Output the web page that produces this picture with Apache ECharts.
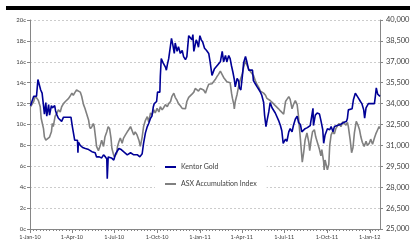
<!DOCTYPE html>
<html><head><meta charset="utf-8">
<script src="https://cdn.jsdelivr.net/npm/echarts@6/dist/echarts.min.js"></script>
<style>html,body{margin:0;padding:0;background:#fff}#c{width:410px;height:246px}</style>
</head><body><div id="c"></div>
<script>
const goldDates = ['2010-01-02','2010-01-05','2010-01-09','2010-01-15','2010-01-18','2010-01-21','2010-01-24','2010-01-27','2010-01-30','2010-02-01','2010-02-04','2010-02-06','2010-02-10','2010-02-12','2010-02-16','2010-02-18','2010-02-23','2010-02-25','2010-02-28','2010-03-03','2010-03-07','2010-03-10','2010-03-14','2010-03-30','2010-04-02','2010-04-05','2010-04-07','2010-04-13','2010-04-14','2010-04-15','2010-04-19','2010-04-24','2010-04-30','2010-05-07','2010-05-11','2010-05-14','2010-05-21','2010-05-24','2010-05-30','2010-06-04','2010-06-08','2010-06-12','2010-06-15','2010-06-16','2010-06-18','2010-06-25','2010-06-30','2010-07-04','2010-07-11','2010-07-16','2010-07-21','2010-07-29','2010-08-05','2010-08-12','2010-08-20','2010-08-25','2010-08-30','2010-09-02','2010-09-06','2010-09-10','2010-09-13','2010-09-17','2010-09-20','2010-09-23','2010-09-25','2010-09-30','2010-10-02','2010-10-07','2010-10-08','2010-10-10','2010-10-14','2010-10-19','2010-10-21','2010-10-23','2010-10-26','2010-10-30','2010-11-01','2010-11-04','2010-11-07','2010-11-09','2010-11-13','2010-11-16','2010-11-20','2010-11-24','2010-11-27','2010-12-01','2010-12-04','2010-12-08','2010-12-12','2010-12-15','2010-12-17','2010-12-19','2010-12-21','2010-12-24','2010-12-26','2010-12-29','2011-01-01','2011-01-04','2011-01-07','2011-01-11','2011-01-15','2011-01-20','2011-01-23','2011-01-27','2011-01-31','2011-02-01','2011-02-05','2011-02-10','2011-02-14','2011-02-18','2011-02-21','2011-02-25','2011-02-28','2011-03-04','2011-03-07','2011-03-10','2011-03-13','2011-03-16','2011-03-18','2011-03-22','2011-03-25','2011-03-27','2011-03-30','2011-04-02','2011-04-05','2011-04-09','2011-04-12','2011-04-16','2011-04-19','2011-04-24','2011-04-26','2011-04-30','2011-05-04','2011-05-07','2011-05-11','2011-05-14','2011-05-18','2011-05-20','2011-05-23','2011-05-25','2011-05-29','2011-06-01','2011-06-05','2011-06-08','2011-06-12','2011-06-16','2011-06-19','2011-06-23','2011-06-26','2011-06-29','2011-07-04','2011-07-07','2011-07-11','2011-07-14','2011-07-18','2011-07-21','2011-07-25','2011-07-29','2011-08-01','2011-08-05','2011-08-08','2011-08-12','2011-08-15','2011-08-20','2011-08-26','2011-08-30','2011-09-01','2011-09-02','2011-09-06','2011-09-10','2011-09-15','2011-09-18','2011-09-22','2011-09-24','2011-09-27','2011-10-02','2011-10-07','2011-10-10','2011-10-14','2011-10-17','2011-10-23','2011-10-30','2011-11-06','2011-11-12','2011-11-14','2011-11-16','2011-11-20','2011-11-24','2011-11-27','2011-12-01','2011-12-04','2011-12-08','2011-12-12','2011-12-15','2011-12-19','2011-12-21','2011-12-24','2011-12-29','2012-01-11','2012-01-13','2012-01-15','2012-01-18','2012-01-20','2012-01-23'];
const goldValues = [11.8,11.7,12.7,12.7,14.3,14.3,13.3,13.0,11.8,11.0,12.1,10.8,11.9,10.9,11.8,11.6,11.8,11.3,10.9,10.6,10.6,10.3,10.7,10.7,9.8,9.8,8.5,8.5,7.3,8.3,8.0,7.8,7.7,7.6,7.7,7.4,7.3,6.9,6.9,6.8,7.1,6.9,6.7,4.8,6.9,6.8,6.6,7.2,7.7,7.6,7.4,7.1,7.3,7.1,7.1,6.9,7.2,8.2,9.2,9.8,10.1,10.6,10.8,11.7,12.0,12.2,13.1,13.1,14.6,16.3,15.9,15.5,15.2,15.7,16.3,17.6,18.25,17.6,16.8,17.8,17.0,17.45,16.8,17.1,16.5,16.2,16.5,18.5,18.4,18.1,18.6,17.0,17.4,18.1,17.9,17.4,18.5,18.1,17.9,17.3,17.1,16.8,16.0,14.7,14.7,15.3,15.2,15.8,16.0,17.0,16.0,16.6,16.0,16.6,16.3,15.6,15.0,14.3,13.6,14.4,14.2,13.5,13.3,14.5,15.9,16.5,16.0,15.2,15.1,15.2,14.2,13.9,13.6,13.4,13.1,12.8,12.1,10.9,9.8,10.3,11.2,12.1,11.6,11.7,11.1,11.0,10.4,9.9,9.4,8.2,8.6,8.4,9.3,9.6,9.3,9.9,10.5,10.8,10.2,10.0,9.3,9.3,9.6,9.7,9.9,11.0,11.55,9.9,10.9,11.1,11.0,10.4,9.5,8.2,9.0,9.6,9.5,9.8,9.3,9.8,9.9,10.0,10.2,10.3,10.6,11.4,11.3,11.5,12.4,13.0,12.9,12.5,12.2,12.0,11.4,10.6,11.6,12.0,12.0,12.7,13.5,12.9,13.0,12.7];

const asxDates = ['2010-01-02','2010-01-05','2010-01-09','2010-01-12','2010-01-16','2010-01-19','2010-01-23','2010-01-25','2010-01-28','2010-01-30','2010-02-01','2010-02-04','2010-02-08','2010-02-12','2010-02-16','2010-02-18','2010-02-20','2010-02-24','2010-02-28','2010-03-03','2010-03-07','2010-03-10','2010-03-14','2010-03-18','2010-03-21','2010-03-25','2010-03-28','2010-04-01','2010-04-04','2010-04-08','2010-04-11','2010-04-15','2010-04-19','2010-04-22','2010-04-26','2010-04-29','2010-05-03','2010-05-07','2010-05-09','2010-05-11','2010-05-14','2010-05-17','2010-05-19','2010-05-22','2010-05-24','2010-05-28','2010-06-01','2010-06-04','2010-06-08','2010-06-11','2010-06-15','2010-06-18','2010-06-21','2010-06-24','2010-06-26','2010-06-29','2010-07-01','2010-07-06','2010-07-08','2010-07-11','2010-07-14','2010-07-18','2010-07-21','2010-07-25','2010-07-29','2010-08-01','2010-08-05','2010-08-08','2010-08-12','2010-08-15','2010-08-19','2010-08-23','2010-08-26','2010-08-30','2010-09-02','2010-09-06','2010-09-10','2010-09-13','2010-09-17','2010-09-20','2010-09-24','2010-09-27','2010-10-01','2010-10-05','2010-10-08','2010-10-12','2010-10-15','2010-10-19','2010-10-23','2010-10-26','2010-10-30','2010-11-02','2010-11-06','2010-11-09','2010-11-13','2010-11-16','2010-11-20','2010-11-24','2010-11-27','2010-12-01','2010-12-04','2010-12-08','2010-12-12','2010-12-15','2010-12-19','2010-12-22','2010-12-26','2010-12-29','2011-01-02','2011-01-06','2011-01-09','2011-01-13','2011-01-16','2011-01-20','2011-01-23','2011-01-27','2011-01-31','2011-02-03','2011-02-07','2011-02-10','2011-02-14','2011-02-18','2011-02-21','2011-02-25','2011-02-28','2011-03-04','2011-03-07','2011-03-10','2011-03-12','2011-03-15','2011-03-16','2011-03-18','2011-03-22','2011-03-25','2011-03-29','2011-04-02','2011-04-05','2011-04-09','2011-04-12','2011-04-16','2011-04-19','2011-04-23','2011-04-26','2011-04-30','2011-05-04','2011-05-07','2011-05-11','2011-05-14','2011-05-18','2011-05-22','2011-05-25','2011-05-29','2011-06-01','2011-06-05','2011-06-08','2011-06-12','2011-06-16','2011-06-19','2011-06-23','2011-06-26','2011-06-30','2011-07-04','2011-07-07','2011-07-11','2011-07-14','2011-07-18','2011-07-21','2011-07-25','2011-07-29','2011-08-01','2011-08-03','2011-08-05','2011-08-07','2011-08-09','2011-08-12','2011-08-15','2011-08-19','2011-08-23','2011-08-25','2011-08-28','2011-08-31','2011-09-04','2011-09-07','2011-09-11','2011-09-15','2011-09-18','2011-09-20','2011-09-24','2011-09-25','2011-09-27','2011-09-30','2011-10-02','2011-10-05','2011-10-07','2011-10-10','2011-10-13','2011-10-17','2011-10-20','2011-10-24','2011-10-27','2011-10-31','2011-11-04','2011-11-07','2011-11-11','2011-11-14','2011-11-16','2011-11-20','2011-11-23','2011-11-26','2011-11-29','2011-12-03','2011-12-07','2011-12-10','2011-12-13','2011-12-16','2011-12-20','2011-12-24','2011-12-27','2011-12-31','2012-01-03','2012-01-07','2012-01-11','2012-01-14','2012-01-18','2012-01-21','2012-01-23'];
const asxValues = [33775,33925,34150,34525,34375,34225,33775,32950,32500,32200,31600,31375,31300,31600,31975,32575,32350,33100,33325,33550,33400,33775,34000,34150,34260,34375,34525,34750,34600,34825,34975,35090,34825,34525,33925,33660,33625,32800,32350,32200,32350,32575,32350,31525,30925,30625,31000,31375,30925,31600,31975,32350,32200,31525,30775,30400,30175,30400,30925,31260,31525,31150,31525,31750,31975,32125,32350,32460,31750,31975,31750,31375,30925,31600,32350,32800,33060,32690,33325,33175,33550,33325,33660,33400,33775,33550,33700,33925,33775,34000,34150,34525,34750,34450,34225,34000,33850,33660,33550,33625,34150,34450,34525,34675,34825,35090,34975,34900,35090,35050,34975,34750,35050,35390,35275,35425,35350,35725,35950,36100,36325,36250,35875,35760,35575,35575,35500,34750,34375,33925,33625,34150,34675,35200,35725,36100,36625,37075,36775,36475,36325,36250,36025,35650,35350,35200,34900,34975,34750,34600,34375,34300,34225,34150,34000,33850,33850,33625,33475,33400,33250,34150,34300,34495,34300,33625,33925,34225,33925,33060,32200,31450,30625,29800,30475,31375,31900,31225,30625,31375,31975,32125,31600,31150,30700,30250,30700,29800,29240,29950,29875,29240,29650,31000,31750,31975,31825,32200,32425,32575,32350,32690,32800,32460,32650,32350,31375,30475,30850,31900,32725,32425,32125,31600,31225,30925,31300,31000,31150,31450,31075,31525,31825,32125,32350,32200];

const xTickDates = ['2010-01-01','2010-04-01','2010-07-01','2010-10-01','2011-01-01','2011-04-01','2011-07-01','2011-10-01','2012-01-01'];
const leftTicks = [0,2,4,6,8,10,12,14,16,18,20];
const rightTicks = [25000,26500,28000,29500,31000,32500,34000,35500,37000,38500,40000];
const xMin = '2010-01-01';
const xMax = '2012-01-23';
const monthNames = ['Jan','Feb','Mar','Apr','May','Jun','Jul','Aug','Sep','Oct','Nov','Dec'];

function ts(s){const p=s.split('-');return Date.UTC(+p[0],+p[1]-1,+p[2]);}
function fmtDate(v){const d=new Date(v);return d.getUTCDate()+'-'+monthNames[d.getUTCMonth()]+'-'+String(d.getUTCFullYear()).slice(2);}

const weekTicks=[];
for(let t=ts(xMin);t<=ts(xMax);t+=7*86400000) weekTicks.push(t);

const axisGrey='#868686', textCol='#404040', FONT='Lato';
const chart = echarts.init(document.getElementById('c'));
chart.setOption({
  animation:false,
  backgroundColor:'#fff',
  textStyle:{fontFamily:FONT},
  graphic:[{type:'rect',shape:{x:6,y:6,width:404,height:4},style:{fill:'#000'}}],
  grid:{left:30,right:30,top:20,bottom:17,containLabel:false,outerBoundsMode:'none'},
  legend:{
    data:['Kentor Gold','ASX Accumulation Index'],
    orient:'vertical',left:155,top:158,padding:[4,10,4,10],
    backgroundColor:'#fff',icon:'rect',itemWidth:11,itemHeight:2,itemGap:7,
    textStyle:{fontSize:7,lineHeight:10,color:textCol,fontFamily:FONT}
  },
  xAxis:[{
    type:'value',min:ts(xMin),max:ts(xMax),position:'bottom',
    axisLine:{show:true,lineStyle:{color:axisGrey,width:1}},
    axisTick:{show:true,length:4,customValues:xTickDates.map(ts),lineStyle:{color:axisGrey}},
    axisLabel:{customValues:xTickDates.map(ts),formatter:fmtDate,fontSize:5.5,color:textCol,margin:5,fontFamily:FONT},
    splitLine:{show:false}
  },{
    type:'value',min:ts(xMin),max:ts(xMax),position:'bottom',
    axisLine:{show:false},
    axisTick:{show:true,length:2,customValues:weekTicks,lineStyle:{color:axisGrey}},
    axisLabel:{show:false},splitLine:{show:false}
  }],
  yAxis:[{
    type:'value',min:0,max:20,interval:2,position:'left',
    axisLine:{show:true,lineStyle:{color:axisGrey,width:1}},
    axisTick:{show:true,length:3,lineStyle:{color:axisGrey}},
    axisLabel:{formatter:'{value}c',fontSize:6,color:textCol,margin:4,fontFamily:FONT},
    splitLine:{show:true,lineStyle:{color:'#cccccc',type:[2,2],width:1}}
  },{
    type:'value',min:25000,max:40000,position:'right',
    axisLine:{show:true,lineStyle:{color:axisGrey,width:1}},
    axisTick:{show:true,length:3,customValues:rightTicks,lineStyle:{color:axisGrey}},
    axisLabel:{customValues:rightTicks,formatter:v=>v.toLocaleString('en-US'),fontSize:7.5,color:textCol,margin:6,fontFamily:FONT},
    splitLine:{show:false}
  }],
  series:[{
    name:'ASX Accumulation Index',type:'line',xAxisIndex:0,yAxisIndex:1,showSymbol:false,
    data:asxDates.map((d,i)=>[ts(d),asxValues[i]]),
    lineStyle:{color:'#808080',width:1.6},itemStyle:{color:'#808080'},z:2
  },{
    name:'Kentor Gold',type:'line',xAxisIndex:0,yAxisIndex:0,showSymbol:false,
    data:goldDates.map((d,i)=>[ts(d),goldValues[i]]),
    lineStyle:{color:'#000096',width:1.6},itemStyle:{color:'#000096'},z:3
  }]
});
</script></body></html>
